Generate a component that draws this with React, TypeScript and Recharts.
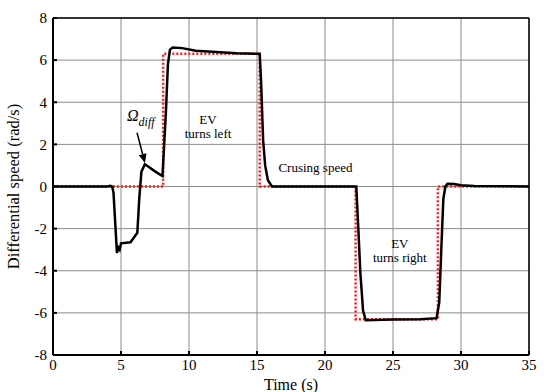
import { LineChart, Line, XAxis, YAxis, CartesianGrid, ReferenceDot, ReferenceLine } from 'recharts';

// measured differential speed (black, solid)
const timeActual = [
  0, 4.0, 4.2, 4.35, 4.45, 4.6, 4.7, 4.8, 4.9, 5.0, 5.7, 6.2, 6.35, 6.5, 6.75, 7.0, 7.5, 8.05, 8.3, 8.45,
  8.6, 8.8, 9.5, 10.5, 12, 13.5, 15.2, 15.3, 15.45, 15.6, 15.8, 16.1, 22.3, 22.45, 22.6, 22.8, 23.0, 25, 27,
  28.2, 28.4, 28.55, 28.7, 28.85, 29.0, 29.5, 30, 31, 35,
];
const speedActual = [
  0, 0, 0.03, 0, -0.3, -2.0, -3.15, -2.9, -3.0, -2.7, -2.65, -2.2, -0.5, 0.7, 1.05, 0.95, 0.72, 0.5, 3.5, 5.8,
  6.5, 6.6, 6.57, 6.45, 6.38, 6.33, 6.3, 5.0, 2.2, 1.0, 0.3, 0, 0, -2.0, -4.1, -5.9, -6.35, -6.32, -6.3,
  -6.25, -5.5, -3.0, -0.6, 0, 0.13, 0.12, 0.06, 0.02, 0,
];

// reference differential speed (red, dotted)
const timeRef = [0, 8.1, 8.1, 15.2, 15.2, 22.25, 22.25, 28.3, 28.3, 35];
const speedRef = [0, 0, 6.3, 6.3, 0, 0, -6.3, -6.3, 0, 0];

const xTicks = [0, 5, 10, 15, 20, 25, 30, 35];
const yTicks = [-8, -6, -4, -2, 0, 2, 4, 6, 8];

const actualData = timeActual.map((t, i) => ({ t, v: speedActual[i] }));
const refData = timeRef.map((t, i) => ({ t, v: speedRef[i] }));

const FONT = 'Liberation Serif, serif';

function Note({ cx, cy, lines }: { cx?: number; cy?: number; lines: string[] }) {
  if (cx == null || cy == null) return null;
  return (
    <text x={cx} y={cy} textAnchor="middle" style={{ fontFamily: FONT, fontSize: 13 }} fill="#000">
      {lines.map((l, i) => (
        <tspan key={i} x={cx} dy={i === 0 ? 0 : 14}>
          {l}
        </tspan>
      ))}
    </text>
  );
}

function Arrow(p: { x1?: number; y1?: number; x2?: number; y2?: number }) {
  const { x1 = 0, y1 = 0, x2 = 0, y2 = 0 } = p;
  const a = Math.atan2(y2 - y1, x2 - x1);
  const len = 9;
  const w = 4;
  const bx = x2 - len * Math.cos(a);
  const by = y2 - len * Math.sin(a);
  const pts = [
    `${x2},${y2}`,
    `${bx + w * Math.sin(a)},${by - w * Math.cos(a)}`,
    `${bx - w * Math.sin(a)},${by + w * Math.cos(a)}`,
  ].join(' ');
  return (
    <g>
      <line x1={x1} y1={y1} x2={bx} y2={by} stroke="#000" strokeWidth={1.5} />
      <polygon points={pts} fill="#000" />
    </g>
  );
}

export default function App() {
  const tickStyle = { fontFamily: FONT, fontSize: 15, fill: '#000' };
  return (
    <div style={{ position: 'absolute', left: 0, top: 0, background: '#fff', fontFamily: FONT }}>
      <LineChart width={549} height={392} margin={{ top: 0, right: 0, bottom: 0, left: 0 }} style={{ fontFamily: FONT }}>
        <CartesianGrid stroke="#8c8c8c" strokeWidth={1} xAxisId={0} yAxisId={0} />
        <XAxis
          xAxisId={0}
          dataKey="t"
          type="number"
          domain={[0, 35]}
          ticks={xTicks}
          interval={0}
          allowDataOverflow
          height={37}
          stroke="#000"
          strokeWidth={2}
          tickSize={-4}
          tickMargin={8}
          tick={tickStyle}
          label={{ value: 'Time (s)', position: 'insideBottom', offset: 2, style: { fontFamily: FONT, fontSize: 16, fill: '#000' } }}
        />
        <XAxis
          xAxisId="top"
          orientation="top"
          dataKey="t"
          type="number"
          domain={[0, 35]}
          ticks={xTicks}
          interval={0}
          height={18}
          stroke="#000"
          strokeWidth={1.5}
          tickSize={-4}
          tick={{ fill: 'none', fontSize: 1 }}
        />
        <YAxis
          yAxisId={0}
          type="number"
          domain={[-8, 8]}
          ticks={yTicks}
          interval={0}
          allowDataOverflow
          width={53}
          stroke="#000"
          strokeWidth={2}
          tickSize={-4}
          tickMargin={10}
          tick={tickStyle}
          label={{
            value: 'Differential speed (rad/s)',
            angle: -90,
            position: 'insideLeft',
            offset: 13,
            style: { textAnchor: 'middle', fontFamily: FONT, fontSize: 16.5, fill: '#000' },
          }}
        />
        <YAxis
          yAxisId="right"
          orientation="right"
          type="number"
          domain={[-8, 8]}
          ticks={yTicks}
          interval={0}
          width={20}
          stroke="#000"
          strokeWidth={1.5}
          tickSize={-4}
          tick={{ fill: 'none', fontSize: 1 }}
        />
        <Line
          data={refData}
          dataKey="v"
          type="linear"
          stroke="#ff1a1a"
          strokeWidth={2.5}
          strokeDasharray="2 2"
          dot={false}
          isAnimationActive={false}
        />
        <Line
          data={actualData}
          dataKey="v"
          type="linear"
          stroke="#000"
          strokeWidth={2.5}
          dot={false}
          isAnimationActive={false}
        />
        <ReferenceLine
          segment={[
            { x: 6.18, y: 2.55 },
            { x: 6.76, y: 1.12 },
          ]}
          shape={(p: any) => <Arrow {...p} />}
        />
        <ReferenceDot
          x={5.44}
          y={3.11}
          r={0}
          shape={(p: any) =>
            p.cx == null ? null : (
              <text x={p.cx} y={p.cy} style={{ fontFamily: FONT, fontStyle: 'italic', fontSize: 16 }} fill="#000">
                Ω
                <tspan style={{ fontSize: 12 }} dy={5}>
                  diff
                </tspan>
              </text>
            )
          }
        />
        <ReferenceDot x={11.4} y={2.97} r={0} shape={(p: any) => <Note cx={p.cx} cy={p.cy} lines={['EV', 'turns left']} />} />
        <ReferenceDot x={19.3} y={0.7} r={0} shape={(p: any) => <Note cx={p.cx} cy={p.cy} lines={['Crusing speed']} />} />
        <ReferenceDot x={25.5} y={-2.9} r={0} shape={(p: any) => <Note cx={p.cx} cy={p.cy} lines={['EV', 'turns right']} />} />
      </LineChart>
    </div>
  );
}
